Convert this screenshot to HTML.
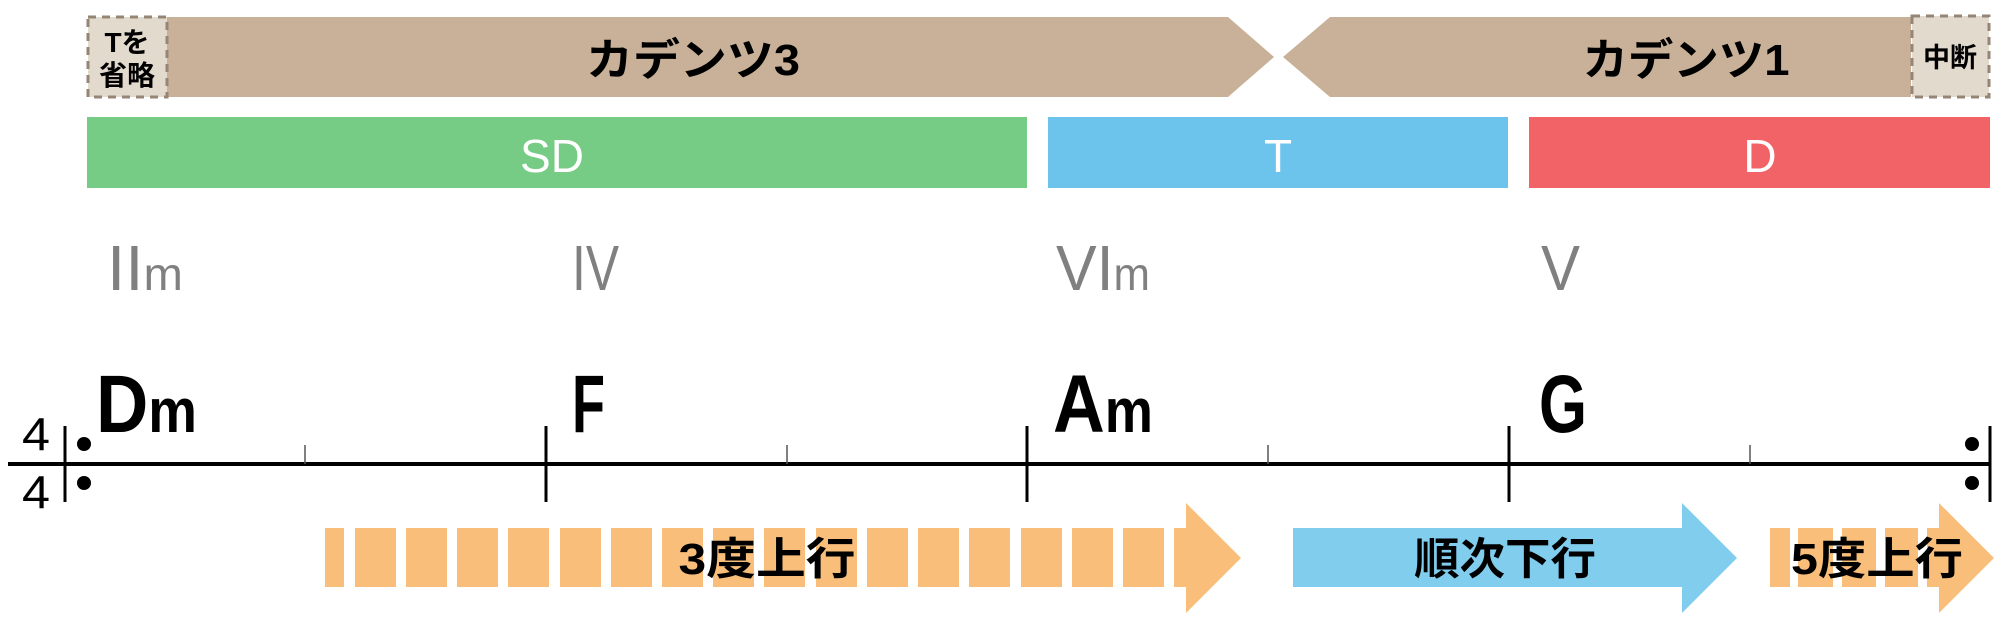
<!DOCTYPE html>
<html><head><meta charset="utf-8"><style>
html,body{margin:0;padding:0;background:#fff;}
svg{display:block;}
.jp{font-family:"Liberation Sans","Noto Sans CJK JP",sans-serif;font-weight:bold;}
.la{font-family:"Liberation Sans",sans-serif;}
</style></head><body>
<svg width="2000" height="623" viewBox="0 0 2000 623" xmlns="http://www.w3.org/2000/svg">
<polygon points="167,17 1228,17 1274,57 1228,97 167,97" fill="#c8b198"/>
<polygon points="1330,17 1911,17 1911,97 1330,97 1283,57" fill="#c8b198"/>
<rect x="88" y="17" width="79" height="80" fill="#e3dace" stroke="#958575" stroke-width="3" stroke-dasharray="8,6"/>
<rect x="1912" y="16" width="77" height="81" fill="#e3dace" stroke="#958575" stroke-width="3" stroke-dasharray="8,6"/>
<text class="jp" x="693" y="75" font-size="44" text-anchor="middle" textLength="214" lengthAdjust="spacingAndGlyphs">カデンツ3</text>
<text class="jp" x="1686" y="75" font-size="44" text-anchor="middle" textLength="207" lengthAdjust="spacingAndGlyphs">カデンツ1</text>
<text class="jp" x="127" y="52" font-size="28" text-anchor="middle">Tを</text>
<text class="jp" x="127" y="85" font-size="28" text-anchor="middle">省略</text>
<text class="jp" x="1950" y="67" font-size="27" text-anchor="middle">中断</text>
<rect x="87" y="117" width="940" height="71" fill="#77cc85"/>
<rect x="1048" y="117" width="460" height="71" fill="#6cc4ec"/>
<rect x="1529" y="117" width="461" height="71" fill="#f26368"/>
<text class="la" x="552" y="172" font-size="46" fill="#fff" text-anchor="middle">SD</text>
<text class="la" x="1278" y="172" font-size="46" fill="#fff" text-anchor="middle">T</text>
<text class="la" x="1760" y="172" font-size="46" fill="#fff" text-anchor="middle">D</text>
<g class="la" fill="#808080">
<text x="107" y="290" font-size="64" textLength="76" lengthAdjust="spacingAndGlyphs">II<tspan font-size="46">m</tspan></text>
<text x="572" y="290" font-size="64" textLength="47" lengthAdjust="spacingAndGlyphs">IV</text>
<text x="1056" y="290" font-size="64" textLength="94" lengthAdjust="spacingAndGlyphs">VI<tspan font-size="46">m</tspan></text>
<text x="1541" y="290" font-size="64" textLength="39" lengthAdjust="spacingAndGlyphs">V</text>
</g>
<g class="la" font-weight="bold" fill="#000">
<text x="96" y="432" font-size="82" textLength="101" lengthAdjust="spacingAndGlyphs">D<tspan font-size="62">m</tspan></text>
<text x="572" y="432" font-size="82" textLength="33" lengthAdjust="spacingAndGlyphs">F</text>
<text x="1053" y="432" font-size="82" textLength="100" lengthAdjust="spacingAndGlyphs">A<tspan font-size="62">m</tspan></text>
<text x="1539" y="432" font-size="82" textLength="48" lengthAdjust="spacingAndGlyphs">G</text>
</g>
<line x1="8" y1="464" x2="1990" y2="464" stroke="#000" stroke-width="4"/>
<g stroke="#000" stroke-width="3">
<line x1="65" y1="426" x2="65" y2="502"/>
<line x1="546" y1="426" x2="546" y2="502"/>
<line x1="1027" y1="426" x2="1027" y2="502"/>
<line x1="1509" y1="426" x2="1509" y2="502"/>
<line x1="1990" y1="426" x2="1990" y2="502"/>
</g>
<g stroke="#555" stroke-width="1.5">
<line x1="305" y1="445" x2="305" y2="464"/>
<line x1="787" y1="445" x2="787" y2="464"/>
<line x1="1268" y1="445" x2="1268" y2="464"/>
<line x1="1750" y1="445" x2="1750" y2="464"/>
</g>
<circle cx="84" cy="444" r="7"/><circle cx="84" cy="483" r="7"/>
<circle cx="1972" cy="444" r="7"/><circle cx="1972" cy="483" r="7"/>
<text class="la" x="36" y="450" font-size="46" text-anchor="middle" textLength="28" lengthAdjust="spacingAndGlyphs">4</text>
<text class="la" x="36" y="508" font-size="46" text-anchor="middle" textLength="28" lengthAdjust="spacingAndGlyphs">4</text>
<g fill="#f9bf7a">
<rect x="325" y="528" width="19" height="59"/>
<rect x="355" y="528" width="41" height="59"/><rect x="406" y="528" width="41" height="59"/>
<rect x="457" y="528" width="41" height="59"/><rect x="508" y="528" width="41" height="59"/>
<rect x="560" y="528" width="41" height="59"/><rect x="611" y="528" width="41" height="59"/>
<rect x="662" y="528" width="41" height="59"/><rect x="713" y="528" width="41" height="59"/>
<rect x="764" y="528" width="41" height="59"/><rect x="816" y="528" width="41" height="59"/>
<rect x="867" y="528" width="41" height="59"/><rect x="918" y="528" width="41" height="59"/>
<rect x="969" y="528" width="41" height="59"/><rect x="1021" y="528" width="41" height="59"/>
<rect x="1072" y="528" width="41" height="59"/><rect x="1123" y="528" width="41" height="59"/>
<polygon points="1174,528 1186,528 1186,503 1241,558 1186,613 1186,587 1174,587"/>
<rect x="1770" y="528" width="20" height="59"/>
<rect x="1798" y="528" width="35" height="59"/><rect x="1842" y="528" width="34" height="59"/>
<rect x="1885" y="528" width="33" height="59"/>
<polygon points="1927,528 1939,528 1939,503 1994,558 1939,613 1939,587 1927,587"/>
</g>
<polygon points="1293,528 1682,528 1682,503 1737,558 1682,613 1682,587 1293,587" fill="#80cdee"/>
<text class="jp" x="767" y="574" font-size="44" text-anchor="middle" textLength="177" lengthAdjust="spacingAndGlyphs">3度上行</text>
<text class="jp" x="1505" y="574" font-size="44" text-anchor="middle" textLength="182" lengthAdjust="spacingAndGlyphs">順次下行</text>
<text class="jp" x="1877" y="574" font-size="44" text-anchor="middle" textLength="172" lengthAdjust="spacingAndGlyphs">5度上行</text>
</svg>
</body></html>
